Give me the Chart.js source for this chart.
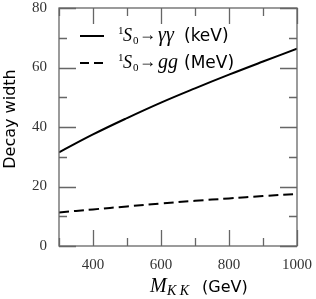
<!DOCTYPE html>
<html>
<head>
<meta charset="utf-8">
<script src="https://cdn.jsdelivr.net/npm/chart.js@4.4.1/dist/chart.umd.min.js"></script>
<style>
  html, body { margin: 0; padding: 0; background: #fff; }
  #wrap { width: 316px; height: 299px; }
</style>
</head>
<body>
<div id="wrap"><canvas id="myChart" width="316" height="299"></canvas></div>
<script>
// masses in GeV
const masses = [300, 400, 500, 600, 700, 800, 900, 1000];
// 1S0 -> gamma gamma, keV
const widthGammaGamma = [31.5, 37.5, 43.0, 48.2, 53.0, 57.6, 62.0, 66.3];
// 1S0 -> g g, MeV
const widthGluGlu = [11.3, 12.3, 13.3, 14.3, 15.2, 16.0, 16.8, 17.5];

const xMajorTicks = [400, 600, 800, 1000];
const xMinorTicks = [300, 500, 700, 900];
const yMajorTicks = [0, 20, 40, 60, 80];
const yMinorTicks = [10, 30, 50, 70];

const seriesNames = [['γγ', 'keV'], ['gg', 'MeV']];
const xTitle = ['M', 'KK', 'GeV'];
const yTitle = 'Decay width';

const serif = '"Liberation Serif", "DejaVu Serif", serif';
const sans = '"DejaVu Sans", "Liberation Sans", sans-serif';
const axisColor = '#666';

// ticks point inward on all four sides; legend and titles use mixed fonts
const decorPlugin = {
    id: 'decor',
    afterDraw(chart) {
        const ctx = chart.ctx;
        const area = chart.chartArea;
        const xs = chart.scales.x;
        const ys = chart.scales.y;
        ctx.save();
        ctx.strokeStyle = axisColor;
        ctx.lineWidth = 1.3;
        ctx.beginPath();
        function xTick(v, len) {
            const px = Math.round(xs.getPixelForValue(v)) + 0.5;
            ctx.moveTo(px, area.bottom); ctx.lineTo(px, area.bottom - len);
            ctx.moveTo(px, area.top); ctx.lineTo(px, area.top + len);
        }
        function yTick(v, len) {
            const py = Math.round(ys.getPixelForValue(v)) + 0.5;
            ctx.moveTo(area.left, py); ctx.lineTo(area.left + len, py);
            ctx.moveTo(area.right, py); ctx.lineTo(area.right - len, py);
        }
        xMajorTicks.forEach(v => xTick(v, 16));
        xMinorTicks.forEach(v => xTick(v, 8));
        yMajorTicks.forEach(v => yTick(v, 17));
        yMinorTicks.forEach(v => yTick(v, 8));
        ctx.stroke();
        ctx.strokeRect(area.left, area.top, area.right - area.left, area.bottom - area.top);

        // legend
        ctx.fillStyle = '#000';
        ctx.strokeStyle = '#000';
        ctx.lineWidth = 2;
        ctx.textBaseline = 'alphabetic';
        ctx.textAlign = 'left';
        const rows = [36, 63];
        rows.forEach((y, i) => {
            ctx.beginPath();
            ctx.setLineDash(i === 0 ? [] : [9, 5]);
            ctx.moveTo(80, y); ctx.lineTo(104, y);
            ctx.stroke();
            ctx.setLineDash([]);
            const base = y + 5;
            ctx.font = '11px ' + serif;
            ctx.fillText('1', 118, base - 7);
            ctx.font = 'italic 18px ' + serif;
            ctx.fillText('S', 123, base);
            ctx.font = '11px ' + serif;
            ctx.fillText('0', 133, base + 3);
            ctx.font = '18px ' + serif;
            ctx.save();
            const aw = ctx.measureText('→').width;
            ctx.translate(139, 0);
            ctx.scale(17 / aw, 1);
            ctx.fillText('→', 0, base - 1);
            ctx.restore();
            ctx.font = 'italic 20px ' + serif;
            ctx.fillText(seriesNames[i][0], 158, base);
            ctx.font = '17px ' + sans;
            ctx.fillText('(' + seriesNames[i][1] + ')', 184, base);
        });

        // x title
        const ty = 292;
        ctx.font = 'italic 20px ' + serif;
        ctx.fillText(xTitle[0], 150, ty);
        ctx.font = 'italic 14px ' + serif;
        ctx.fillText(xTitle[1].split('').join(' '), 167, ty + 3);
        ctx.font = '16px ' + sans;
        ctx.fillText('(' + xTitle[2] + ')', 202, ty);

        // y title
        ctx.translate(15, 119);
        ctx.rotate(-Math.PI / 2);
        ctx.textAlign = 'center';
        ctx.font = '16px ' + sans;
        ctx.fillText(yTitle, 0, 0);
        ctx.restore();
    }
};

document.addEventListener('DOMContentLoaded', function() {
    const ctx = document.getElementById('myChart').getContext('2d');
    const myChart = new Chart(ctx, {
        type: 'line',
        data: {
            labels: masses,
            datasets: [{
                label: '1S0 → γγ (keV)',
                data: masses.map((m, i) => ({ x: m, y: widthGammaGamma[i] })),
                borderColor: '#000',
                borderWidth: 2,
                pointRadius: 0,
                tension: 0.4,
                fill: false
            }, {
                label: '1S0 → gg (MeV)',
                data: masses.map((m, i) => ({ x: m, y: widthGluGlu[i] })),
                borderColor: '#000',
                borderWidth: 2,
                borderDash: [10, 5],
                pointRadius: 0,
                tension: 0.4,
                fill: false
            }]
        },
        options: {
            responsive: false,
            animation: false,
            layout: { padding: { top: 8, right: 19, left: 0, bottom: 0 } },
            plugins: {
                legend: { display: false },
                tooltip: { enabled: false }
            },
            scales: {
                x: {
                    type: 'linear',
                    min: 300,
                    max: 1000,
                    afterFit: function(scale) {
                        scale.height = 53;
                        scale.paddingLeft = 0;
                        scale.paddingRight = 0;
                    },
                    afterBuildTicks: function(scale) {
                        scale.ticks = xMajorTicks.map(v => ({ value: v }));
                    },
                    grid: { display: false, drawTicks: false },
                    border: { display: false },
                    ticks: {
                        padding: 10,
                        color: '#333',
                        font: { family: serif, size: 15 },
                        maxRotation: 0,
                        callback: v => String(v)
                    }
                },
                y: {
                    min: 0,
                    max: 80,
                    afterFit: function(scale) {
                        scale.width = 59;
                        scale.paddingTop = 0;
                        scale.paddingBottom = 0;
                    },
                    afterBuildTicks: function(scale) {
                        scale.ticks = yMajorTicks.map(v => ({ value: v }));
                    },
                    grid: { display: false, drawTicks: false },
                    border: { display: false },
                    ticks: {
                        padding: 12,
                        color: '#333',
                        font: { family: serif, size: 15 },
                        callback: v => String(v)
                    }
                }
            }
        },
        plugins: [decorPlugin]
    });
});
</script>
</body>
</html>
